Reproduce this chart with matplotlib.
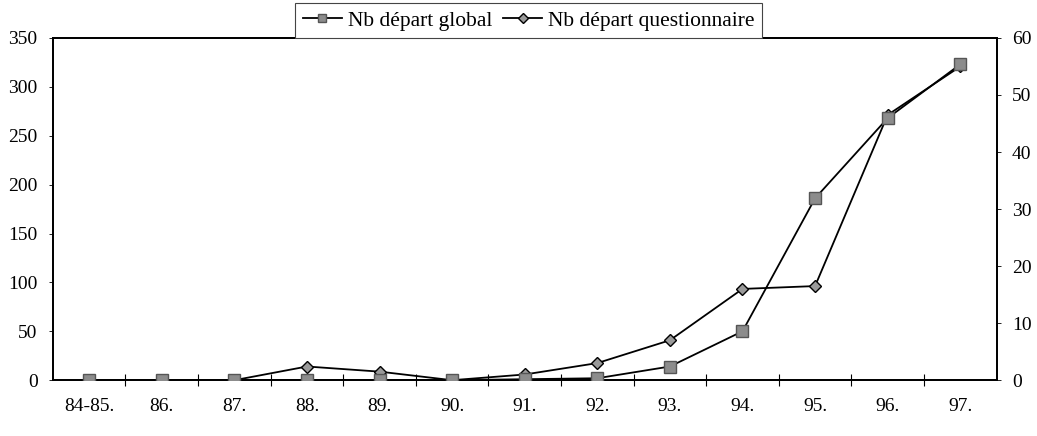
import matplotlib.pyplot as plt
from matplotlib.ticker import FixedLocator, MultipleLocator

plt.rcParams["font.family"] = ["Liberation Serif", "DejaVu Serif"]

annees = ["84-85.", "86.", "87.", "88.", "89.", "90.", "91.",
          "92.", "93.", "94.", "95.", "96.", "97."]
depart_global = [0, 0, 0, 0, 0, 0, 1, 2, 14, 50, 186, 268, 323]
depart_questionnaire = [0, 0, 0, 2.4, 1.5, 0, 1, 3, 7, 16, 16.5, 46.5, 55]

x = list(range(len(annees)))

fig = plt.figure(figsize=(10.37, 4.36), dpi=100)
ax = fig.add_axes([0.051, 0.128, 0.910, 0.785])
ax2 = ax.twinx()
# la série globale passe devant
ax.set_zorder(ax2.get_zorder() + 1)
ax.patch.set_visible(False)

l1, = ax.plot(x, depart_global, color="black", lw=1.3, marker="s",
              markersize=8, markerfacecolor="#8c8c8c",
              markeredgecolor="#555555", label="Nb départ global", zorder=3)
l2, = ax2.plot(x, depart_questionnaire, color="black", lw=1.3, marker="D",
               markersize=6, markerfacecolor="#9a9a9a",
               markeredgecolor="black", label="Nb départ questionnaire", zorder=4)

ax.set_xlim(-0.5, len(annees) - 0.5)
ax.set_ylim(0, 350)
ax2.set_ylim(0, 60)

ax.set_xticks(x)
ax.set_xticklabels(annees, fontsize=14)
ax.xaxis.set_minor_locator(FixedLocator([i + 0.5 for i in range(len(annees) - 1)]))
ax.tick_params(axis="x", which="major", length=0, pad=13)
ax.tick_params(axis="x", which="minor", direction="inout", length=8, width=0.8)

ax.yaxis.set_major_locator(MultipleLocator(50))
ax.tick_params(axis="y", direction="out", length=3, width=0.6, labelsize=14, pad=8)
ax2.yaxis.set_major_locator(MultipleLocator(10))
ax2.tick_params(axis="y", direction="out", length=3, width=0.6, labelsize=14, pad=8)

for a in (ax, ax2):
    for s in a.spines.values():
        s.set_linewidth(1.3)
        s.set_color("black")

leg = fig.legend(handles=[l1, l2], loc="upper center", ncol=2,
                 bbox_to_anchor=(0.510, 0.993), borderaxespad=0,
                 fontsize=15.5, frameon=True,
                 fancybox=False, edgecolor="#444444", framealpha=1,
                 handlelength=1.8, handletextpad=0.3, columnspacing=0.5,
                 borderpad=0.35, markerscale=0.8)
leg.get_frame().set_linewidth(0.8)

fig.savefig("out.png", dpi=100)
